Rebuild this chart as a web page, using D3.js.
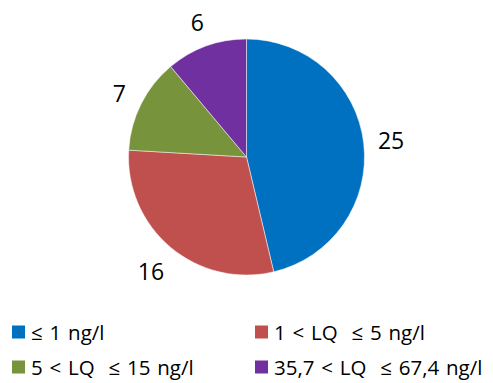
<!DOCTYPE html>
<html><head><meta charset="utf-8">
<script src="https://cdn.jsdelivr.net/npm/d3@7"></script>
<style>body{margin:0;background:#fff}</style>
</head><body>
<svg id="c" width="493" height="383"></svg>
<script>
const categories = ["≤ 1 ng/l", "1 < LQ  ≤ 5 ng/l", "5 < LQ  ≤ 15 ng/l", "35,7 < LQ  ≤ 67,4 ng/l"];
const values = [25, 16, 7, 6];
const colors = ["#0070C0", "#C0504D", "#77933C", "#7030A0"];

const svg = d3.select("#c");
const cx = 246.5, cy = 157, r = 118;
const font = "'Open Sans', sans-serif";
const data = categories.map((c, i) => ({cat: c, value: values[i], color: colors[i]}));
const pie = d3.pie().value(d => d.value).sort(null);
const arcs = pie(data);
const arc = d3.arc().innerRadius(0).outerRadius(r);
const g = svg.append("g").attr("transform", `translate(${cx},${cy})`);
g.selectAll("path").data(arcs).join("path")
  .attr("d", arc).attr("fill", d => d.data.color)
  .attr("stroke", "#fff").attr("stroke-width", 0.5);

const labels = g.selectAll("text.lbl").data(arcs).join("text")
  .attr("class", "lbl")
  .attr("text-anchor", "middle").attr("dominant-baseline", "central")
  .attr("font-family", font).attr("font-size", 23).attr("fill", "#000")
  .text(d => d.data.value);
labels.each(function(d) {
  const bb = this.getBBox();
  const a = (d.startAngle + d.endAngle) / 2;
  const sx = Math.sin(a), sy = -Math.cos(a);
  const ext = Math.abs(sx) * (bb.width / 2 + 2) + Math.abs(sy) * (bb.height * 0.4);
  const dist = r + 11 + ext;
  d3.select(this).attr("transform", `translate(${sx * dist},${sy * dist})`);
});

const lx = [12, 255], ly = [332, 367];
const lg = svg.append("g");
data.forEach((d, i) => {
  const x = lx[i % 2], y = ly[Math.floor(i / 2)];
  lg.append("rect").attr("x", x).attr("y", y - 6.5).attr("width", 13).attr("height", 13).attr("fill", d.color);
  lg.append("text").attr("x", x + 19).attr("y", y).attr("dominant-baseline", "central")
    .attr("font-family", font).attr("font-size", 20.5).attr("fill", "#000")
    .style("white-space", "pre").style("word-spacing", "1.5px").text(d.cat);
});
</script>
</body></html>
